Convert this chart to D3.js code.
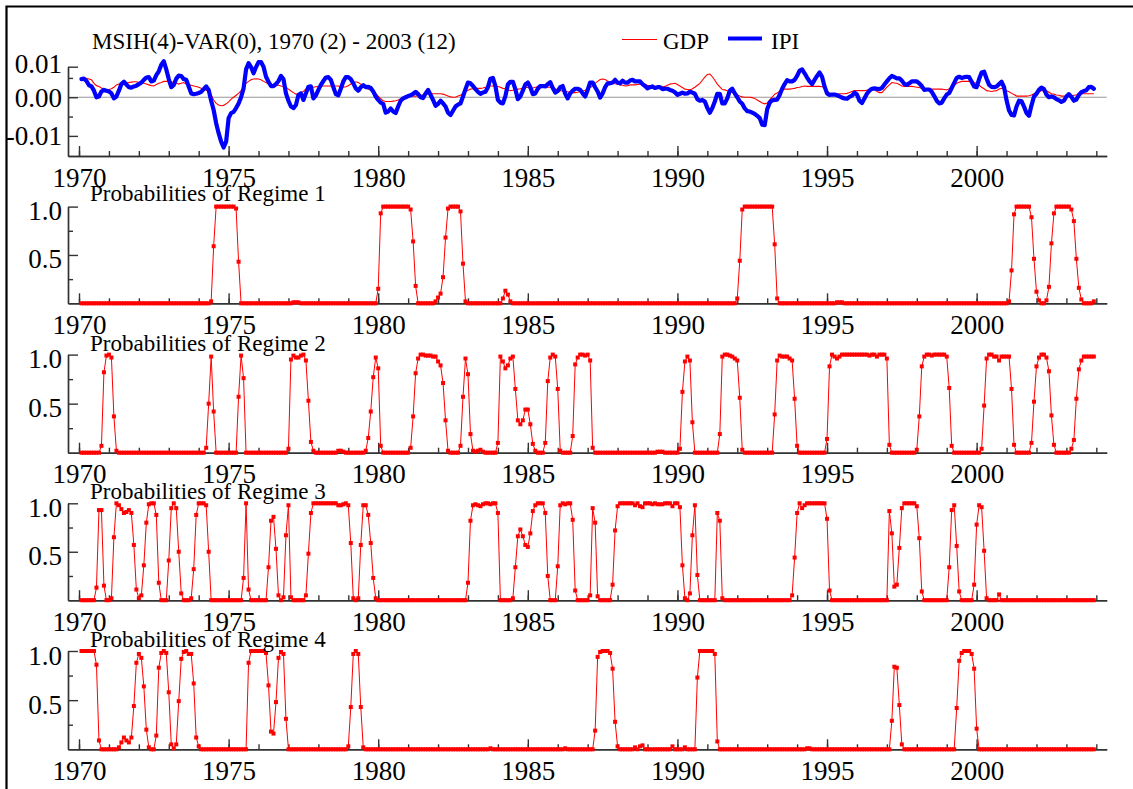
<!DOCTYPE html>
<html><head><meta charset="utf-8">
<script src="https://cdn.jsdelivr.net/npm/d3@7/dist/d3.min.js"></script>
<style>
body{margin:0;background:#fff}
svg text{font-family:"Liberation Serif","Times New Roman",serif;fill:#000}
</style>
</head><body>
<svg id="c" width="1133" height="789"></svg>
<script>
// ---------------- DATA (monthly, 1970(2) - 2003(12)) ----------------
const firstYear = 1970, firstMonth = 2;
const chartTitle = "MSIH(4)-VAR(0), 1970 (2) - 2003 (12)";
const seriesNames = ["GDP", "IPI"];
const regimeTitles = ["Probabilities of Regime 1","Probabilities of Regime 2","Probabilities of Regime 3","Probabilities of Regime 4"];
const yearTicks = [1970,1971,1972,1973,1974,1975,1976,1977,1978,1979,1980,1981,1982,1983,1984,1985,1986,1987,1988,1989,1990,1991,1992,1993,1994,1995,1996,1997,1998,1999,2000,2001,2002,2003,2004];
const yearLabels = [1970,1975,1980,1985,1990,1995,2000];
const topTickValues = [0.0079, 0, -0.01];
const topTickLabels = ["0.01","0.00","-0.01"];
const topMinorTicks = [0.005, -0.005];
const probTickValues = [1, 0.5];
const probTickLabels = ["1.0","0.5"];
const probMinorTicks = [0.75, 0.25];

const gdp = [
.0049,.0049,.0049,.0047,.0045,.0036,.003,.0028,.0024,.0021,.0019,
.002,.0022,.0026,.0032,.0034,.0034,.0036,.0037,.0038,.0039,.004,.004,
.0038,.0037,.0036,.0034,.0032,.003,.0029,.0033,.0036,.0038,.0041,.0041,
.0041,.004,.0038,.0036,.0034,.0036,.0038,.0034,.0032,.0031,.0029,.0028,
.0026,.0023,.0021,.0018,.0015,.0006,-.0007,-.0016,-.002,-.0022,-.0021,-.0017,
-.0012,-.0005,0,.0005,.001,.0017,.0026,.0036,.0041,.0045,.0047,.0048,
.0047,.0045,.0041,.0038,.0034,.0032,.0032,.0032,.0031,.0029,.0028,.0026,
.0021,.0016,.0012,.0008,.0009,.0012,.0015,.0021,.0022,.0024,.0026,.0027,
.0028,.0028,.0029,.0029,.0029,.0029,.0029,.0029,.0029,.0027,.0026,.0027,
.003,.0034,.0036,.004,.0038,.0034,.0029,.0024,.0021,.0018,.0015,.001,
.0003,-.0004,-.0009,-.0011,-.0011,-.0011,-.001,-.0009,-.0007,-.0004,-.0002,0,
.0001,.0002,.0003,.0003,.0004,.0005,.0006,.0007,.0008,.0009,.0009,.0009,
.0009,.0009,.0008,.0006,.0003,.0001,0,0,.0003,.0005,.001,.0014,
.0018,.0021,.0022,.0023,.0023,.0023,.0024,.0026,.0028,.0029,.0029,.0029,
.0028,.0026,.0023,.0022,.0019,.0017,.0018,.0019,.0021,.0022,.0024,.0026,
.0025,.0023,.0024,.0026,.0027,.0028,.0027,.0026,.0026,.0026,.0024,.0022,
.0019,.0017,.0016,.0015,.0014,.0012,.0012,.0012,.0013,.0015,.0016,.0018,
.0021,.0025,.0029,.0036,.0041,.0046,.0047,.0046,.0042,.0039,.0037,.0035,
.0034,.0032,.0031,.0029,.003,.0032,.0032,.0032,.0033,.0034,.0034,.0033,
.0031,.003,.0028,.0027,.0026,.0026,.0027,.0028,.0031,.0034,.0035,.0036,
.0033,.0029,.0025,.0021,.002,.0019,.0022,.0026,.0031,.0036,.0044,.0052,
.0059,.006,.0053,.0044,.0034,.0027,.002,.0019,.0017,.0015,.0012,.0009,
.0006,.0003,.0001,0,0,0,-.0001,-.0003,-.0007,-.0011,-.0015,-.0017,
-.0015,-.0007,0,.0008,.0011,.0015,.0018,.0021,.0021,.0021,.0022,.0023,
.0025,.0026,.0028,.0029,.0028,.0028,.0028,.0028,.0028,.0028,.0027,.0026,
.0017,.001,.0008,.0006,.0008,.0009,.0009,.0009,.001,.0012,.0015,.0017,
.0017,.0017,.0017,.0017,.0018,.0019,.002,.0021,.0015,.0012,.0012,.0019,
.0026,.0032,.0038,.0037,.0036,.0033,.0029,.0028,.0028,.0028,.0028,.0027,
.0026,.0025,.0023,.0022,.0021,.0021,.0021,.0021,.0021,.0021,.0021,.002,
.0019,.0022,.0026,.0031,.0036,.0039,.0041,.0041,.0041,.0041,.0041,.0038,
.0036,.0031,.0026,.0022,.0017,.0016,.0015,.0016,.0017,.0021,.0023,.0021,
.0017,.0014,.001,.0007,.0003,.0003,.0003,.0003,.0003,.0004,.0006,.0009,
.0012,.0015,.0017,.0017,.0017,.0013,.0009,.0008,.0006,.0005,.0003,.0003,
.0002,.0003,.0003,.0005,.0006,.0007,.0009,.0009,.0009,.0009,.0009,.0009
];

const ipi = [
.0047,.0048,.0042,.0031,.0028,.0017,0,.0002,.0015,.0019,.0017,
.0015,.001,-.0003,.0002,.0017,.0034,.004,.0033,.0026,.0025,.0028,.003,
.0034,.0038,.0045,.0051,.0052,.0041,.0043,.0057,.0067,.0084,.0093,.0072,
.0047,.0026,.0032,.0048,.0056,.0055,.0047,.0045,.0028,.001,.0008,.0009,
.0011,.0014,.0021,.0028,.0019,-.0009,-.0033,-.0067,-.0093,-.0115,-.013,-.0115,
-.0054,-.0041,-.0038,-.0028,-.0016,0,.0023,.0072,.0088,.0078,.0062,.0078,
.0091,.0091,.0079,.0053,.004,.0029,.0029,.0034,.0042,.0055,.0047,.001,
-.0009,-.0024,-.0028,-.002,.0006,.001,-.0007,.001,.0027,.0028,-.0003,.0005,
.0019,.0032,.0042,.0051,.0052,.0045,.0026,.0008,.0005,.0022,.0041,.0052,
.0052,.0047,.0036,.0023,.0017,.0026,.0031,.0026,.0027,.0024,.0015,.0002,
-.0007,-.0014,-.0017,-.004,-.0037,-.0029,-.0037,-.0041,-.0024,-.0009,-.0003,0,
.0003,.0005,.0009,.0014,.0008,0,-.0002,.001,.0019,.0006,-.0007,-.0022,
-.0017,-.0009,-.0016,-.0024,-.004,-.0046,-.0035,-.0024,-.0019,-.0016,.0002,.0021,
.0038,.0036,.0029,.0021,.0014,.0009,.0012,.0014,.0026,.0048,.005,.0029,
-.0007,-.0014,-.0016,.0003,.0033,.004,.004,.0021,-.0005,.0002,.0017,.0033,
.0038,.0026,.0008,.001,.0022,.0029,.0029,.0028,.0034,.0039,.0024,.0012,
.0016,.0026,.0029,.0009,-.0003,.001,.0017,.0022,.0022,.0019,.001,.0002,
.0019,.0038,.0038,.0026,.0015,-.0001,.001,.0026,.0036,.0036,.0038,.0045,
.0038,.0036,.0043,.0038,.0038,.0043,.0045,.0041,.0041,.0041,.0034,.0029,
.0023,.0026,.0028,.0024,.0026,.0026,.0021,.0022,.0022,.0019,.0017,.0013,
.0006,.0009,.0012,.0009,.001,.0014,.0012,.0009,-.0005,-.0009,-.0007,-.0011,
-.0028,-.004,-.0028,-.0011,.0009,.0009,-.0016,-.0016,-.0003,.0017,.0022,.001,
0,-.0011,-.0017,-.0029,-.0036,-.0037,-.004,-.0043,-.0048,-.0054,-.0071,-.0072,
-.0031,-.0014,-.0008,-.0007,-.0006,.0006,.0022,.0034,.0044,.0041,.0041,.0045,
.0055,.0069,.0072,.0062,.0051,.0041,.0034,.0045,.0055,.0064,.0053,.0028,
.001,.0006,.0007,.0007,.0005,.0002,-.0001,-.0003,-.0004,.0001,.0004,.0012,
.0007,-.0009,-.0015,-.0003,.0009,.0017,.0022,.0023,.0022,.0021,.0024,.0033,
.0041,.0049,.0055,.0052,.0049,.0049,.0043,.0034,.0032,.0036,.0041,.0041,
.0041,.0036,.0029,.0019,.002,.002,.0014,.0003,-.0009,-.0016,-.0014,-.0003,
.0007,.0011,.0024,.0037,.005,.0053,.005,.0052,.0053,.0052,.004,.0028,
.0026,.0047,.0064,.0066,.0048,.0032,.0027,.0026,.0028,.0034,.004,.0026,
-.0008,-.0034,-.0046,-.0047,-.0024,-.0009,-.001,-.0024,-.0041,-.0048,-.0021,.0002,
.0009,.0019,.0025,.0021,.0007,0,.0002,0,-.0005,-.0008,-.0012,-.0009,
.0002,.0008,.0001,-.0009,-.0006,.0006,.0013,.0016,.0018,.0026,.0027,.0022
];

const regime1 = [
0,0,0,0,0,0,0,0,0,0,0,
0,0,0,0,0,0,0,0,0,0,0,0,
0,0,0,0,0,0,0,0,0,0,0,0,
0,0,0,0,0,0,0,0,0,0,0,0,
0,0,0,0,0,.02,.59,1,1,1,1,1,
1,1,1,.98,.43,0,0,0,0,0,0,0,
0,0,0,0,0,0,0,0,0,0,0,0,
0,0,.01,.01,.01,0,0,0,0,0,0,0,
0,0,0,0,0,0,0,0,0,0,0,0,
0,0,0,0,0,0,0,0,0,0,0,0,
.15,.93,1,1,1,1,1,1,1,1,1,1,
1,.97,.64,.18,0,0,0,0,0,0,0,.02,
.06,.1,.27,.68,.98,1,1,1,1,.95,.41,.02,
0,0,0,0,0,0,0,0,0,0,0,0,
0,0,.05,.13,.09,.02,0,0,0,0,0,0,
0,0,0,0,0,0,0,0,0,0,0,0,
0,0,0,0,0,0,0,0,0,0,0,0,
0,0,0,0,0,0,0,0,0,0,0,0,
0,0,0,0,0,0,0,0,0,0,0,0,
0,0,0,0,0,0,0,0,0,0,0,0,
0,0,0,0,0,0,0,0,0,0,0,0,
0,0,0,0,0,0,0,0,0,0,0,0,
.05,.44,.97,1,1,1,1,1,1,1,1,1,
1,1,1,.61,.05,0,0,0,0,0,0,0,
0,0,0,0,0,0,0,0,0,0,0,0,
0,0,0,0,.01,.01,.01,0,0,0,0,0,
0,0,0,0,0,0,0,0,0,0,0,0,
0,0,0,0,0,0,0,0,0,0,0,0,
0,0,0,0,0,0,0,0,0,0,0,0,
0,0,0,0,0,0,0,0,0,0,0,0,
0,0,0,0,0,0,0,0,0,0,0,0,
0,.02,.34,.92,1,1,1,1,1,1,.89,.46,
.12,.03,0,0,.03,.17,.62,.93,1,1,1,1,
1,1,.97,.85,.46,.16,.04,0,0,0,0,.02
];

const regime2 = [
0,0,0,0,0,0,0,0,.07,.82,.99,
1,.97,.37,.02,0,0,0,0,0,0,0,0,
0,0,0,0,0,0,0,0,0,0,0,0,
0,0,0,0,0,0,0,0,0,0,0,0,
0,0,0,.05,.5,.98,.42,0,0,0,0,0,
0,0,0,0,.57,.99,.76,0,0,0,0,0,
0,0,0,0,0,0,0,0,0,0,0,0,
.04,.95,.99,.97,.97,.99,1,.94,.53,.11,.02,0,
0,0,0,0,0,0,0,0,.02,.02,.01,0,
0,0,0,0,0,0,0,.02,.15,.42,.77,.97,
.86,.07,0,0,0,0,0,0,0,0,0,0,
0,.05,.37,.81,.96,1,1,.99,.99,.99,.98,.98,
.93,.89,.71,.33,.02,0,0,0,0,.07,.57,.96,
.8,.19,.02,.01,.02,.03,.01,0,0,0,0,0,
.1,.98,.93,.86,.89,.96,.98,.65,.33,.29,.33,.44,
.44,.29,.09,.02,0,0,0,.1,.73,.97,1,.98,
.65,.02,0,0,0,0,.17,.9,.97,1,1,.99,
1,.94,.05,0,0,0,0,0,0,0,0,0,
0,0,0,0,0,0,0,0,0,0,0,0,
0,0,0,0,.01,.01,.01,0,0,0,0,0,
0,.04,.62,.93,.98,.94,.31,0,0,0,0,0,
0,0,0,0,0,.19,.98,1,1,.99,.98,.96,
.94,.56,.03,0,0,0,0,0,0,0,0,0,
0,0,0,.39,.94,.99,.98,.98,.98,.96,.94,.55,
.07,0,0,0,0,0,0,0,0,0,0,0,
.14,.88,1,.98,.96,.98,1,1,1,1,1,1,
1,1,1,1,1,.99,1,1,.98,1,1,1,
.96,.08,0,0,0,0,0,0,0,0,0,0,
.03,.37,.88,.98,1,1,.99,1,1,1,1,1,
.98,.66,.07,0,0,0,0,0,0,0,0,0,
0,0,.04,.48,.96,1,1,.98,.98,.94,.98,.98,
.98,.98,.65,.08,0,0,0,0,0,0,.1,.52,
.88,.97,1,1,.97,.83,.38,.08,0,0,0,0,
0,0,.04,.13,.55,.85,.94,.98,.98,.98,.98,.98
];

const regime3 = [
0,0,0,0,0,0,.13,.93,.93,.15,0,
0,.02,.65,1,.98,.94,.9,.91,.93,.9,.57,.11,
.02,.05,.36,.8,.99,1,1,.88,.18,0,0,0,
.41,.95,1,.95,.5,.07,0,0,0,.02,.32,.88,
1,1,1,.98,.5,0,0,0,0,0,0,0,
0,0,0,0,0,0,.23,1,.11,0,0,0,
0,0,0,0,.34,.82,.86,.53,.05,0,.03,.67,
.98,.03,0,0,0,0,0,.05,.48,.9,1,1,
1,1,1,1,1,1,1,1,.98,.98,.99,1,
.98,.59,.02,0,.02,.57,.98,.98,.88,.59,.23,.02,
0,0,0,0,0,0,0,0,0,0,0,0,
0,0,0,0,0,0,0,0,0,0,0,0,
0,0,0,0,0,0,0,0,0,0,0,0,
.18,.82,.98,.99,.98,.97,.99,1,1,.99,1,1,
.9,0,0,0,0,0,.02,.34,.66,.73,.66,.57,
.55,.69,.92,.98,1,1,1,.9,.25,0,0,0,
.35,.98,1,.99,1,1,.83,.1,0,0,0,0,
0,.05,.95,.8,.04,0,0,0,0,0,.16,.72,
.97,1,1,1,1,1,1,.98,1,.97,.96,1,
1,1,.99,1,.99,.99,.99,1,1,1,.97,1,
1,.96,.36,.02,0,.07,.67,.98,.26,0,0,0,
0,0,0,0,.9,.82,.02,0,0,0,0,0,
0,0,0,0,0,0,0,0,0,0,0,0,
0,0,0,0,0,0,0,0,0,0,.05,.44,
.9,1,.95,.98,1,1,1,1,1,1,1,1,
.84,.1,0,0,0,0,0,0,0,0,0,0,
0,0,0,0,0,0,0,0,0,0,0,0,
0,.92,.69,.14,.16,.54,.95,1,1,1,1,1,
.97,.64,.09,0,0,0,0,0,0,0,0,0,
0,.34,.93,.98,.56,.09,0,0,0,0,0,.16,
.78,.98,.96,.51,.02,0,0,0,0,.06,0,0,
0,0,0,0,0,0,0,0,0,0,0,0,
0,0,0,0,0,0,0,0,0,0,0,0,
0,0,0,0,0,0,0,0,0,0,0,0
];

const regime4 = [
1,1,1,1,1,1,.86,.09,0,0,0,
0,0,0,0,.02,.07,.12,.09,.07,.12,.44,.88,
.97,.93,.64,.2,.02,0,0,.14,.83,.98,1,.98,
.58,.05,.01,.05,.49,.92,.99,1,.97,.97,.67,.12,
.03,0,0,0,0,0,0,0,0,0,0,0,
0,0,0,0,0,0,0,0,.88,1,1,1,
1,1,1,.98,.65,.18,.16,.48,.93,.99,.97,.31,
0,0,0,0,0,0,0,0,0,0,0,0,
0,0,0,0,0,0,0,0,0,0,0,0,
.03,.43,.97,1,.97,.43,.02,0,0,0,0,0,
0,0,0,0,0,0,0,0,0,0,0,0,
0,0,0,0,0,0,0,0,0,0,0,0,
0,0,0,0,0,0,0,0,0,0,0,0,
0,0,0,0,0,0,0,0,0,.01,0,0,
0,0,0,0,0,0,0,0,0,0,0,0,
0,0,0,0,0,0,0,0,0,0,0,0,
0,0,0,.01,0,0,0,0,0,0,0,0,
0,0,0,.19,.94,.99,1,1,1,.98,.82,.28,
.03,0,0,0,0,0,0,.02,0,.03,.04,0,
0,0,0,0,0,0,0,0,0,0,.03,0,
0,0,0,.02,0,0,0,0,.73,1,1,1,
1,1,1,.97,.08,0,0,0,0,0,0,0,
0,0,0,0,0,0,0,0,0,0,0,0,
0,0,0,0,0,0,0,0,0,0,0,0,
0,0,0,0,.01,.01,0,0,0,0,0,0,
0,0,0,0,0,0,0,0,0,0,0,0,
0,0,0,0,0,0,0,0,0,0,0,0,
0,0,.29,.84,.83,.45,.05,0,0,0,0,0,
0,0,0,0,0,0,0,0,0,0,0,0,
0,0,0,0,.42,.9,.98,1,1,1,.97,.82,
.21,0,0,0,0,0,0,0,0,0,0,0,
0,0,0,0,0,0,0,0,0,0,0,0,
0,0,0,0,0,0,0,0,0,0,0,0,
0,0,0,0,0,0,0,0,0,0,0,0
];
const regimes = [regime1, regime2, regime3, regime4];

// ---------------- LAYOUT ----------------
const svg = d3.select("#c");
const axisColor = "#333";
const tickFont = 27, titleFont = 23;
const dates = gdp.map((_, i) => firstYear + (firstMonth - 1 + i) / 12);

const x = d3.scaleLinear().domain([1969.632, 2004.347]).range([68, 1106.7]);

// frame
svg.append("path").attr("d","M6.5,789V6.5H1133").attr("fill","none").attr("stroke","#000").attr("stroke-width",2.2);

function styleAxis(g){
  g.select(".domain").attr("stroke", axisColor).attr("stroke-width",1.4);
  g.selectAll(".tick line").attr("stroke", axisColor).attr("stroke-width",1.4);
  g.selectAll("text").attr("font-family",'"Liberation Serif","Times New Roman",serif').attr("font-size",tickFont).attr("fill","#000");
}

function drawXAxis(y){
  const gMinor = svg.append("g").attr("transform",`translate(0,${y})`)
    .call(d3.axisBottom(x).tickValues(yearTicks).tickSize(-5).tickSizeOuter(0).tickFormat(""));
  styleAxis(gMinor);
  const gMajor = svg.append("g").attr("transform",`translate(0,${y})`)
    .call(d3.axisBottom(x).tickValues(yearLabels).tickSize(-10).tickSizeOuter(0).tickFormat(d3.format("d")));
  styleAxis(gMajor);
  gMajor.selectAll("text").attr("y",30.5).attr("dy",null);
}

function drawYAxis(scale, major, labels, minor, labelOffsets){
  const gMinor = svg.append("g").attr("transform","translate(68,0)")
    .call(d3.axisLeft(scale).tickValues(minor).tickSize(-5).tickSizeOuter(0).tickFormat(""));
  styleAxis(gMinor);
  const gMajor = svg.append("g").attr("transform","translate(68,0)")
    .call(d3.axisLeft(scale).tickValues(major).tickSize(-10).tickSizeOuter(0).tickPadding(6)
      .tickFormat((d,i)=>labels[i]));
  styleAxis(gMajor);
  gMajor.selectAll("text").attr("dy",null).attr("y",(d,i)=>labelOffsets[i]);
}

// ---------------- TOP PANEL ----------------
const yTop = d3.scaleLinear().domain([-0.0152, 0.0079]).range([156, 66.7]);
svg.append("line").attr("x1",68).attr("x2",1106.7).attr("y1",yTop(0)).attr("y2",yTop(0))
  .attr("stroke","#999").attr("stroke-width",1.2);
drawYAxis(yTop, topTickValues, topTickLabels, topMinorTicks, [6, 9, 9]);
drawXAxis(156);

const lineTop = s => d3.line().x((d,i)=>x(dates[i])).y(d=>yTop(d))(s);
svg.append("path").attr("d", lineTop(gdp)).attr("fill","none").attr("stroke","#ff0000").attr("stroke-width",1.1);
svg.append("path").attr("d", lineTop(ipi)).attr("fill","none").attr("stroke","#0000ff").attr("stroke-width",4.2)
  .attr("stroke-linejoin","round").attr("stroke-linecap","round");

svg.append("text").attr("x",92).attr("y",49).attr("font-size",titleFont).text(chartTitle);
// legend
svg.append("line").attr("x1",622).attr("x2",657).attr("y1",39.5).attr("y2",39.5).attr("stroke","#ff0000").attr("stroke-width",1.1);
svg.append("text").attr("x",663).attr("y",48.5).attr("font-size",titleFont).text(seriesNames[0]);
svg.append("line").attr("x1",728).attr("x2",762).attr("y1",38.5).attr("y2",38.5).attr("stroke","#0000ff").attr("stroke-width",4.2);
svg.append("text").attr("x",771).attr("y",48.5).attr("font-size",titleFont).text(seriesNames[1]);

// ---------------- REGIME PANELS ----------------
const panels = [
  {top:206.6, bottom:303.3, titleY:200.5},
  {top:354.6, bottom:452.7, titleY:350.5},
  {top:503.3, bottom:600.2, titleY:498.5},
  {top:651.0, bottom:749.3, titleY:646.5}
];
panels.forEach((p, k) => {
  const y = d3.scaleLinear().domain([0,1]).range([p.bottom, p.top]);
  drawYAxis(y, probTickValues, probTickLabels, probMinorTicks, [13, 13]);
  drawXAxis(p.bottom);
  const data = regimes[k];
  svg.append("path").attr("d", d3.line().x((d,i)=>x(dates[i])).y(d=>y(d))(data))
    .attr("fill","none").attr("stroke","#ff0000").attr("stroke-width",1);
  svg.append("g").selectAll("rect").data(data).join("rect")
    .attr("x",(d,i)=>x(dates[i])-2).attr("y",d=>y(d)-2).attr("width",4).attr("height",4).attr("fill","#ff0000");
  svg.append("text").attr("x",90).attr("y",p.titleY).attr("font-size",titleFont).text(regimeTitles[k]);
});
</script>
</body></html>
